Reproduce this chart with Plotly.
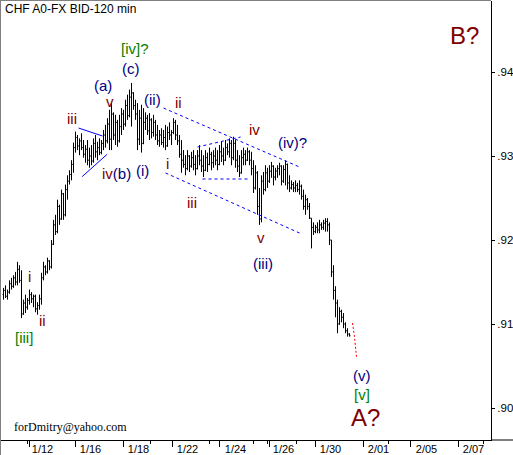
import plotly.graph_objects as go

# ---------------- data ----------------
chart_title = "CHF A0-FX BID-120 min"
signature = "forDmitry@yahoo.com"

opens = [
    .9135, .9140, .9133, .9138, .9148, .9145, .9155, .9150, .9165, .9152,
    .9112, .9125, .9120, .9128, .9135, .9130, .9133, .9118, .9122, .9130,
    .9155, .9168, .9162, .9175, .9168, .9195, .9218, .9210, .9240, .9225,
    .9255, .9230, .9260, .9270, .9278, .9290, .9310, .9322, .9312, .9318,
    .9310, .9302, .9308, .9295, .9300, .9294, .9315, .9305, .9310, .9304,
    .9315, .9325, .9318, .9338, .9320, .9350, .9325, .9340, .9318, .9335,
    .9350, .9338, .9360, .9348, .9370, .9375, .9360, .9350, .9320, .9345,
    .9315, .9340, .9345, .9330, .9343, .9328, .9340, .9325, .9318, .9325,
    .9316, .9322, .9312, .9328, .9325, .9328, .9340, .9325, .9318, .9302,
    .9295, .9290, .9285, .9300, .9288, .9298, .9290, .9285, .9300, .9295,
    .9288, .9283, .9298, .9290, .9302, .9292, .9300, .9295, .9290, .9305,
    .9300, .9295, .9310, .9305, .9315, .9298, .9315, .9295, .9288, .9280,
    .9298, .9302, .9295, .9305, .9295, .9285, .9262, .9280, .9240, .9225,
    .9270, .9260, .9280, .9270, .9282, .9288, .9275, .9282, .9285, .9288,
    .9270, .9284, .9290, .9268, .9262, .9266, .9262, .9265, .9260, .9264,
    .9252, .9240, .9248, .9240, .9226, .9215, .9210, .9215, .9212, .9218,
    .9215, .9220, .9222, .9218, .9200, .9162, .9140, .9125, .9100, .9115,
    .9108, .9100, .9092, .9088,
]
highs = [
    .9143, .9146, .9141, .9152, .9155, .9158, .9162, .9174, .9170, .9164,
    .9129, .9135, .9131, .9141, .9138, .9135, .9135, .9126, .9135, .9161,
    .9174, .9170, .9179, .9176, .9200, .9224, .9230, .9248, .9242, .9260,
    .9256, .9266, .9277, .9283, .9295, .9316, .9329, .9325, .9321, .9327,
    .9319, .9313, .9319, .9310, .9313, .9321, .9325, .9317, .9321, .9319,
    .9331, .9337, .9345, .9355, .9363, .9352, .9349, .9343, .9349, .9357,
    .9355, .9367, .9373, .9379, .9387, .9376, .9367, .9363, .9355, .9361,
    .9357, .9352, .9349, .9351, .9345, .9349, .9343, .9337, .9331, .9333,
    .9331, .9337, .9335, .9340, .9331, .9345, .9343, .9337, .9325, .9319,
    .9307, .9301, .9307, .9301, .9305, .9307, .9301, .9307, .9313, .9307,
    .9301, .9307, .9304, .9310, .9305, .9307, .9310, .9307, .9313, .9317,
    .9310, .9319, .9315, .9321, .9319, .9323, .9319, .9307, .9301, .9307,
    .9310, .9307, .9310, .9307, .9305, .9295, .9289, .9282, .9262, .9277,
    .9281, .9289, .9286, .9289, .9293, .9289, .9286, .9289, .9292, .9289,
    .9289, .9295, .9291, .9277, .9271, .9269, .9271, .9268, .9271, .9266,
    .9260, .9254, .9250, .9244, .9226, .9221, .9218, .9221, .9224, .9221,
    .9224, .9226, .9226, .9221, .9200, .9170, .9145, .9129, .9120, .9117,
    .9113, .9102, .9095, .9089,
]
lows = [
    .9129, .9131, .9129, .9136, .9141, .9143, .9146, .9146, .9149, .9107,
    .9111, .9113, .9117, .9123, .9125, .9120, .9114, .9111, .9117, .9123,
    .9152, .9158, .9160, .9164, .9166, .9194, .9206, .9208, .9218, .9224,
    .9224, .9228, .9248, .9266, .9271, .9280, .9304, .9307, .9301, .9307,
    .9298, .9292, .9289, .9286, .9289, .9292, .9298, .9295, .9301, .9302,
    .9307, .9310, .9315, .9307, .9307, .9319, .9313, .9311, .9316, .9325,
    .9331, .9335, .9343, .9346, .9335, .9355, .9343, .9307, .9313, .9304,
    .9314, .9331, .9325, .9319, .9321, .9323, .9319, .9313, .9311, .9313,
    .9310, .9307, .9311, .9319, .9313, .9326, .9319, .9313, .9298, .9280,
    .9286, .9277, .9283, .9281, .9286, .9283, .9277, .9284, .9289, .9281,
    .9275, .9282, .9281, .9289, .9283, .9286, .9289, .9283, .9289, .9293,
    .9289, .9294, .9301, .9298, .9289, .9295, .9286, .9281, .9275, .9279,
    .9289, .9289, .9294, .9289, .9277, .9256, .9260, .9230, .9218, .9221,
    .9254, .9258, .9262, .9268, .9274, .9265, .9271, .9274, .9277, .9265,
    .9268, .9265, .9260, .9257, .9260, .9257, .9257, .9257, .9254, .9248,
    .9236, .9230, .9236, .9225, .9190, .9206, .9208, .9208, .9208, .9212,
    .9212, .9210, .9210, .9194, .9156, .9129, .9108, .9089, .9099, .9102,
    .9095, .9089, .9085, .9085,
]
closes = [
    .9140, .9133, .9138, .9148, .9145, .9155, .9150, .9165, .9152, .9112,
    .9125, .9120, .9128, .9135, .9130, .9133, .9118, .9122, .9130, .9155,
    .9168, .9162, .9175, .9168, .9195, .9218, .9210, .9240, .9225, .9255,
    .9230, .9260, .9270, .9278, .9290, .9310, .9322, .9312, .9318, .9310,
    .9302, .9308, .9295, .9300, .9294, .9315, .9305, .9310, .9304, .9315,
    .9325, .9318, .9338, .9320, .9350, .9325, .9340, .9318, .9335, .9350,
    .9338, .9360, .9348, .9370, .9375, .9360, .9350, .9320, .9345, .9315,
    .9340, .9345, .9330, .9343, .9328, .9340, .9325, .9318, .9325, .9316,
    .9322, .9312, .9328, .9325, .9328, .9340, .9325, .9318, .9302, .9295,
    .9290, .9285, .9300, .9288, .9298, .9290, .9285, .9300, .9295, .9288,
    .9283, .9298, .9290, .9302, .9292, .9300, .9295, .9290, .9305, .9300,
    .9295, .9310, .9305, .9315, .9298, .9315, .9295, .9288, .9280, .9298,
    .9302, .9295, .9305, .9295, .9285, .9262, .9280, .9240, .9225, .9270,
    .9260, .9280, .9270, .9282, .9288, .9275, .9282, .9285, .9288, .9270,
    .9284, .9290, .9268, .9262, .9266, .9262, .9265, .9260, .9264, .9252,
    .9240, .9248, .9240, .9226, .9215, .9210, .9215, .9212, .9218, .9215,
    .9220, .9222, .9218, .9200, .9162, .9140, .9125, .9100, .9115, .9108,
    .9100, .9092, .9088, .9086,
]
bar_index = list(range(len(opens)))

# axis ticks (bar-index positions)
date_labels = ["1/12", "1/16", "1/18", "1/22", "1/24", "1/26", "1/30", "2/01", "2/05", "2/07"]
date_label_pos = [19.5, 43.5, 67.5, 92, 116, 140, 163.5, 187.5, 211.5, 235]
major_day_ticks = [13, 36, 60, 84.5, 108, 133, 156, 180, 203.5, 227.5]
minor_day_ticks = [12, 73.5, 103, 125, 132, 146.5, 192.5, 240]
price_ticks = [.90, .91, .92, .93, .94]
price_tick_text = [".90", ".91", ".92", ".93", ".94"]

# analyst trend lines (bar index, price)
tri_upper_x, tri_upper_y = [37.5, 49.5], [.93333, .93238]
tri_lower_x, tri_lower_y = [39.3, 51.8], [.92754, .93020]
chan_upper_x, chan_upper_y = [80, 148], [.93571, .92869]
chan_lower_x, chan_lower_y = [81, 148], [.92798, .92083]
inner_upper_x, inner_upper_y = [97, 118.5], [.93107, .93226]
inner_lower_x, inner_lower_y = [99.5, 122.5], [.92726, .92726]
proj_x, proj_y = [174.5, 175.5, 176.5], [.91012, .90845, .90607]

# wave labels: text, bar index, price, colour, size
NAVY, DRED, GREEN = "#000080", "#800000", "#008000"
wave_labels = [
    ("[iv]?", 65.5, .94274, GREEN, 15),
    ("(c)", 63.5, .94036, NAVY, 15),
    ("(a)", 49.5, .93845, NAVY, 15),
    ("v", 53, .93650, DRED, 15),
    ("iii", 34, .93452, DRED, 15),
    ("(ii)", 74.5, .93667, NAVY, 15),
    ("ii", 87.5, .93640, DRED, 15),
    ("iv", 125.5, .93310, DRED, 15),
    ("(iv)?", 144.5, .93160, NAVY, 15),
    ("B?", 230.5, .94440, DRED, 24),
    ("<span style='color:#800000'>iv</span>(b)", 56.5, .92786, NAVY, 15),
    ("(i)", 69.5, .92833, NAVY, 15),
    ("i", 82, .92905, DRED, 15),
    ("iii", 94, .92452, DRED, 15),
    ("v", 128.5, .92030, DRED, 15),
    ("(iii)", 129.5, .91726, NAVY, 15),
    ("i", 13, .91571, DRED, 15),
    ("ii", 19.5, .91036, DRED, 15),
    ("[iii]", 10, .90845, GREEN, 15),
    ("(v)", 179, .90381, NAVY, 15),
    ("[v]", 179, .90155, GREEN, 15),
    ("A?", 181, .89881, DRED, 24),
]

# ---------------- figure ----------------
W, H = 513, 455
ML, MR, MT, MB = 1, 22, 1, 15
PW, PH = W - ML - MR, H - MT - MB
X_RANGE = [-1.25, 243.75]
Y_RANGE = [0.896190, 0.948452]

fig = go.Figure()
fig.add_trace(go.Ohlc(
    x=bar_index, open=opens, high=highs, low=lows, close=closes,
    increasing=dict(line=dict(color="black", width=1)),
    decreasing=dict(line=dict(color="black", width=1)),
    tickwidth=0.5, showlegend=False, hoverinfo="skip",
))

blue = "#0000ff"
for xs, ys, dash in [
    (tri_upper_x, tri_upper_y, "solid"),
    (tri_lower_x, tri_lower_y, "solid"),
    (chan_upper_x, chan_upper_y, "3px,3px"),
    (chan_lower_x, chan_lower_y, "3px,3px"),
    (inner_upper_x, inner_upper_y, "3px,3px"),
    (inner_lower_x, inner_lower_y, "3px,3px"),
]:
    fig.add_trace(go.Scatter(x=xs, y=ys, mode="lines",
                             line=dict(color=blue, width=1, dash=dash),
                             showlegend=False, hoverinfo="skip"))
fig.add_trace(go.Scatter(x=proj_x, y=proj_y, mode="lines",
                         line=dict(color="#ff0000", width=1, dash="2px,2px"),
                         showlegend=False, hoverinfo="skip"))
# empty trace so the label axis is created
fig.add_trace(go.Scatter(x=[], y=[], xaxis="x2", yaxis="y", showlegend=False))

annotations = []
for text, xb, pr, col, size in wave_labels:
    annotations.append(dict(
        x=xb, y=pr, xref="x", yref="y", text=text, showarrow=False,
        xanchor="center", yanchor="middle",
        font=dict(family="Liberation Sans, Arial", size=size, color=col),
    ))
annotations.append(dict(
    x=(3 - ML) / PW, y=1 - (9 - MT) / PH, xref="paper", yref="paper",
    text=chart_title, showarrow=False, xanchor="left", yanchor="middle",
    font=dict(family="Liberation Sans, Arial", size=12, color="black"),
))
annotations.append(dict(
    x=(12 - ML) / PW, y=1 - (427 - MT) / PH, xref="paper", yref="paper",
    text=signature, showarrow=False, xanchor="left", yanchor="middle",
    font=dict(family="Liberation Serif, Times New Roman", size=12, color="black"),
))

shapes = [
    dict(type="line", xref="paper", yref="paper", x0=-0.5 / PW, x1=1, y0=1 + 0.5 / PH, y1=1 + 0.5 / PH,
         line=dict(color="#808080", width=1)),
    dict(type="line", xref="paper", yref="paper", x0=-0.5 / PW, x1=-0.5 / PW, y0=-MB / PH, y1=1 + 1 / PH,
         line=dict(color="#808080", width=1)),
    dict(type="line", xref="paper", yref="paper", x0=1, x1=(W - ML) / PW, y0=0, y1=0,
         line=dict(color="black", width=1)),
]

fig.update_layout(
    width=W, height=H,
    margin=dict(l=ML, r=MR, t=MT, b=MB, pad=0, autoexpand=False),
    paper_bgcolor="white", plot_bgcolor="white",
    showlegend=False,
    annotations=annotations, shapes=shapes,
    xaxis=dict(
        range=X_RANGE, showgrid=False, zeroline=False, rangeslider=dict(visible=False),
        showline=True, linecolor="black", linewidth=1, automargin=False,
        tickmode="array", tickvals=major_day_ticks, showticklabels=False,
        ticks="outside", ticklen=6, tickcolor="black", tickwidth=1,
        minor=dict(tickmode="array", tickvals=minor_day_ticks, ticks="outside",
                   ticklen=3, tickcolor="black", tickwidth=1, showgrid=False),
        fixedrange=True,
    ),
    xaxis2=dict(
        range=X_RANGE, overlaying="x", anchor="y", side="bottom", automargin=False,
        showgrid=False, zeroline=False, showline=False,
        tickmode="array", tickvals=date_label_pos, ticktext=date_labels,
        ticks="", ticklabelstandoff=1,
        tickfont=dict(family="Liberation Sans, Arial", size=11, color="black"),
    ),
    yaxis=dict(
        range=Y_RANGE, side="right", showgrid=False, zeroline=False, automargin=False,
        showline=True, linecolor="black", linewidth=1,
        tickmode="array", tickvals=price_ticks, ticktext=price_tick_text,
        ticks="outside", ticklen=3, tickcolor="black",
        tickfont=dict(family="Liberation Sans, Arial", size=11.5, color="black"),
        fixedrange=True,
    ),
)

fig.write_html("out.html", config={"displayModeBar": False},
               post_script="document.body.style.margin='0';document.body.style.padding='0';")
